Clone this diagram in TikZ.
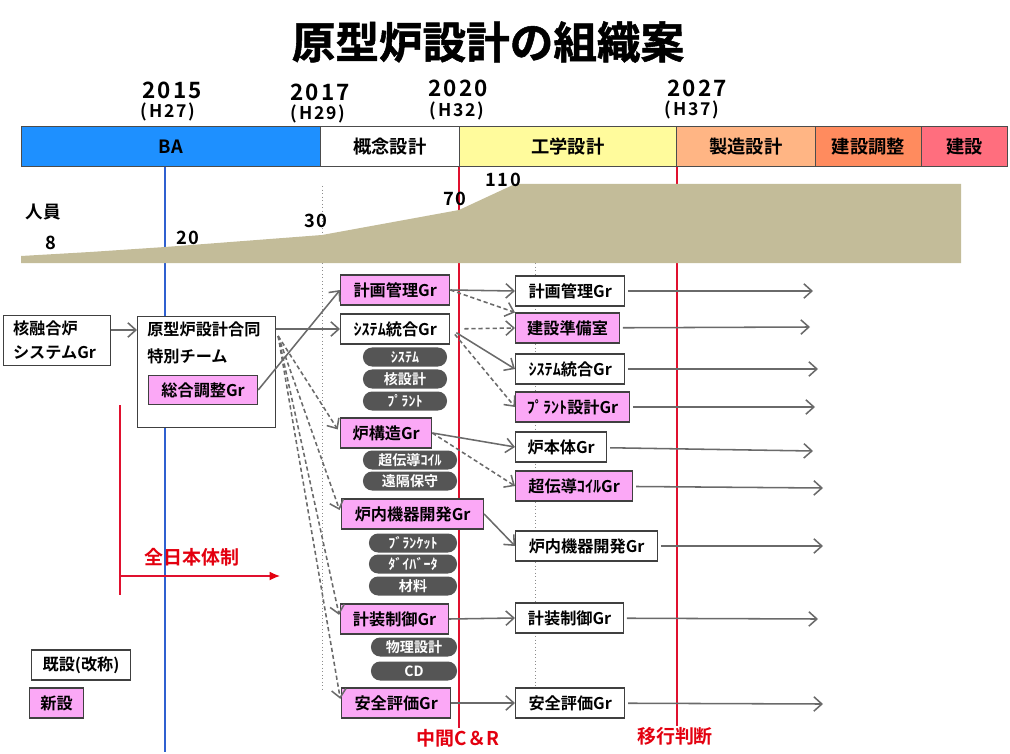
\documentclass[tikz,border=0pt]{standalone}
\usepackage{fontspec}
\setmainfont{Noto Sans CJK JP}[BoldFont={Noto Sans CJK JP Bold}]
\newfontfamily\titlefont{Noto Sans CJK JP Bold}[FakeBold=1.2]
\newfontfamily\numfont{Noto Sans CJK JP Bold}[LetterSpace=10]
\usetikzlibrary{arrows.meta, positioning, calc}
\definecolor{cpink}{HTML}{FBA8F6}
\definecolor{cgrey}{HTML}{6A6A6A}
\definecolor{cpill}{HTML}{555555}
\definecolor{cred}{HTML}{E3000F}
\definecolor{cline}{HTML}{E0102E}
\definecolor{cblueline}{HTML}{2F60D0}
\definecolor{ctan}{HTML}{C3BC99}
\definecolor{cba}{HTML}{1E90FF}
\definecolor{ceng}{HTML}{FFFB9C}
\definecolor{cmfg}{HTML}{FFB584}
\definecolor{cadj}{HTML}{FF8B5E}
\definecolor{cbuild}{HTML}{FF6E7E}
\newlength{\phw}
\tikzset{
  box/.style={draw=black!75, fill=#1, line width=0.8pt, font=\bfseries\fontsize{11.5}{17}\selectfont, inner sep=0pt},
  box/.default=white,
  grp/.style={box, minimum width=#1, minimum height=0.75cm, anchor=west},
  grp/.default=2.73cm,
  newgrp/.style={box=cpink, minimum width=#1, minimum height=0.75cm, anchor=west},
  newgrp/.default=2.73cm,
  pill/.style={fill=cpill, text=white, rounded corners=0.23cm, minimum width=#1, minimum height=0.475cm, inner sep=0pt, font=\bfseries\fontsize{10}{11}\selectfont},
  pill/.default=2.1cm,
  phase/.style={draw=black!70, fill=#1, line width=0.6pt, minimum width=\phw, minimum height=1cm, inner sep=0pt, anchor=north west, font=\bfseries\fontsize{13}{15}\selectfont},
  arr/.style={-{Straight Barb[length=2mm, width=3.6mm]}, draw=cgrey, line width=1.1pt},
  darr/.style={arr, dash pattern=on 3pt off 2pt},
  year/.style={font=\numfont\fontsize{16}{18}\selectfont},
  era/.style={font=\numfont\fontsize{12.5}{14}\selectfont},
  staff/.style={font=\numfont\fontsize{13}{15}\selectfont},
  redtxt/.style={text=cred, font=\bfseries\fontsize{13.5}{16}\selectfont},
  vdot/.style={draw=black!45, line width=0.5pt, dotted},
  vred/.style={draw=cline, line width=0.9pt},
}

\begin{document}
\begin{tikzpicture}[x=0.025cm, y=-0.025cm]
  \useasboundingbox (0,0) rectangle (1010,754);
  \node[font=\titlefont\fontsize{31}{36}\selectfont] (ttl) at (488,42) {原型炉設計の組織案};

  % years
  \node[year] (y15) at (172,90) {2015};
  \node[era] (h27) at (168,112) {(H27)};
  \node[year] (y17) at (320,92) {2017};
  \node[era] (h29) at (318,114) {(H29)};
  \node[year] (y20) at (458,88) {2020};
  \node[era] (h32) at (457,111) {(H32)};
  \node[year] (y27) at (697,88) {2027};
  \node[era] (h37) at (692,110) {(H37)};

  % time lines
  \draw[cblueline, line width=0.9pt] (165,166) -- (165,752);
  \draw[vdot] (322,186) -- (322,690);
  \draw[vred] (459,166) -- (459,728);
  \draw[vdot] (535,186) -- (535,690);
  \draw[vred] (677,166) -- (677,726);

  % phases
  \setlength{\phw}{7.475cm}\node[phase=cba] (ba) at (21,126) {BA};
  \setlength{\phw}{3.475cm}\node[phase=white] (conc) at (320,126) {概念設計};
  \setlength{\phw}{5.425cm}\node[phase=ceng] (eng) at (459,126) {工学設計};
  \setlength{\phw}{3.475cm}\node[phase=cmfg] (mfg) at (676,126) {製造設計};
  \setlength{\phw}{2.65cm}\node[phase=cadj] (adj) at (815,126) {建設調整};
  \setlength{\phw}{2.15cm}\node[phase=cbuild] (bld) at (921,126) {建設};

  % staff
  \fill[ctan] (21,256) -- (90,252) -- (165,247) -- (322,235) -- (459,210) -- (515,184)
    -- (961,184) -- (961,263) -- (21,263) -- cycle;
  \node[font=\bfseries\fontsize{12.5}{15}\selectfont] (staff) at (43,212) {人員};
  \node[staff] (s8) at (51,243) {8};
  \node[staff] (s20) at (188,238) {20};
  \node[staff] (s30) at (316,221) {30};
  \node[staff] (s70) at (455,199) {70};
  \node[staff] (s110) at (503,180) {110};

  % left side
  \node[box, anchor=north west, minimum width=2.675cm, minimum height=1.25cm, text width=2.2cm, align=left] (fsys) at (3,315) {核融合炉\\システムGr};
  \node[box, anchor=north west, minimum width=3.45cm, minimum height=2.775cm] (team) at (137,316) {};
  \node[anchor=north west, align=left, inner sep=0pt, font=\bfseries\fontsize{11.5}{19}\selectfont] (teamtxt) at (147,322) {原型炉設計合同\\特別チーム};
  \node[newgrp=2.725cm, minimum height=0.725cm] (sogo) at (148,390) {総合調整Gr};
  \draw[arr] (fsys.east |- 0,330) -- (team.west |- 0,330);

  % groups until 2020
  \node[newgrp] (plnA) at (340,290) {計画管理Gr};
  \node[grp] (sysA) at (340,329) {ｼｽﾃﾑ統合Gr};
  \node[pill] (p1) at (405,357) {ｼｽﾃﾑ};
  \node[pill] (p2) at (405,379) {核設計};
  \node[pill] (p3) at (405,401) {ﾌﾟﾗﾝﾄ};
  \node[newgrp=2.28cm] (kozo) at (340,433) {炉構造Gr};
  \node[pill=2.35cm] (p4) at (410,460) {超伝導ｺｲﾙ};
  \node[pill=2.35cm] (p5) at (410,481) {遠隔保守};
  \node[newgrp=3.55cm] (naiA) at (341,514) {炉内機器開発Gr};
  \node[pill=2.2cm] (p6) at (413,543) {ﾌﾞﾗﾝｹｯﾄ};
  \node[pill=2.2cm] (p7) at (413,564) {ﾀﾞｲﾊﾞｰﾀ};
  \node[pill=2.2cm] (p8) at (413,586) {材料};
  \node[newgrp=2.7cm] (ctlA) at (340,619) {計装制御Gr};
  \node[pill=2.15cm] (p9) at (414,647) {物理設計};
  \node[pill=2.15cm] (p10) at (414,671) {CD};
  \node[newgrp] (safA) at (341,703) {安全評価Gr};

  % groups after 2020
  \node[grp] (plnB) at (515,291) {計画管理Gr};
  \node[newgrp=2.6cm] (prep) at (515,328) {建設準備室};
  \node[grp] (sysB) at (515,369) {ｼｽﾃﾑ統合Gr};
  \node[newgrp=2.85cm] (plant) at (515,407) {ﾌﾟﾗﾝﾄ設計Gr};
  \node[grp=2.28cm] (body) at (515,447) {炉本体Gr};
  \node[newgrp=2.93cm] (coil) at (515,486) {超伝導ｺｲﾙGr};
  \node[grp=3.55cm] (naiB) at (515,546) {炉内機器開発Gr};
  \node[grp=2.7cm] (ctlB) at (515,618) {計装制御Gr};
  \node[grp] (safB) at (515,703) {安全評価Gr};

  % team -> groups
  \draw[arr] (sogo.east) -- (plnA.west);
  \draw[arr] (team.east |- sysA.west) -- (sysA.west);
  \coordinate (tm) at ($(team.north east)+(2,20)$);
  \foreach \t in {kozo, naiA, ctlA, safA}
    \draw[darr, shorten >=3pt] (tm) -- (\t.west);

  % groups -> groups
  \draw[arr] (plnA.east) -- (plnB.west);
  \draw[darr] (plnA.east) -- (prep.north west);
  \draw[darr, shorten <=10pt] (sysA.east) -- (prep.west);
  \draw[arr, shorten <=5pt] (sysA.east) -- (sysB.west);
  \draw[darr, shorten <=5pt] (sysA.east) -- (plant.west);
  \draw[arr] (kozo.east) -- (body.west);
  \draw[darr] (kozo.east) -- (coil.west);
  \foreach \f/\t in {naiA/naiB, ctlA/ctlB, safA/safB}
    \draw[arr] (\f.east) -- (\t.west);
  \foreach \n/\x/\y in {plnB/813/291, prep/810/327, sysB/818/369, plant/815/407, body/813/451, coil/823/488, naiB/823/546, ctlB/818/619, safB/823/704}{
    \coordinate (\n-end) at (\x,\y);
    \draw[arr, shorten <=2pt] (\n) -- (\n-end);
  }

  % all japan
  \coordinate (rtop) at (120,405);
  \coordinate (rbot) at (120,595);
  \coordinate (rstart) at (120,576);
  \coordinate (rend) at (280,576);
  \draw[cline, line width=0.8pt] (rtop) -- (rbot);
  \draw[cline, line width=0.8pt, -{Latex[length=2.6mm, width=2.2mm, color=cred]}] (rstart) -- (rend);
  \node[redtxt] (allj) at (192,557) {全日本体制};

  % legend
  \node[box, anchor=west, minimum width=2.475cm, minimum height=0.75cm] (old) at (31,665) {既設(改称)};
  \node[box=cpink, anchor=west, minimum width=1.35cm, minimum height=0.75cm] (new) at (29,703) {新設};

  % milestones
  \node[redtxt] (cr) at (458,738) {中間C＆R};
  \node[redtxt] (move) at (675,736) {移行判断};
\end{tikzpicture}
\end{document}
